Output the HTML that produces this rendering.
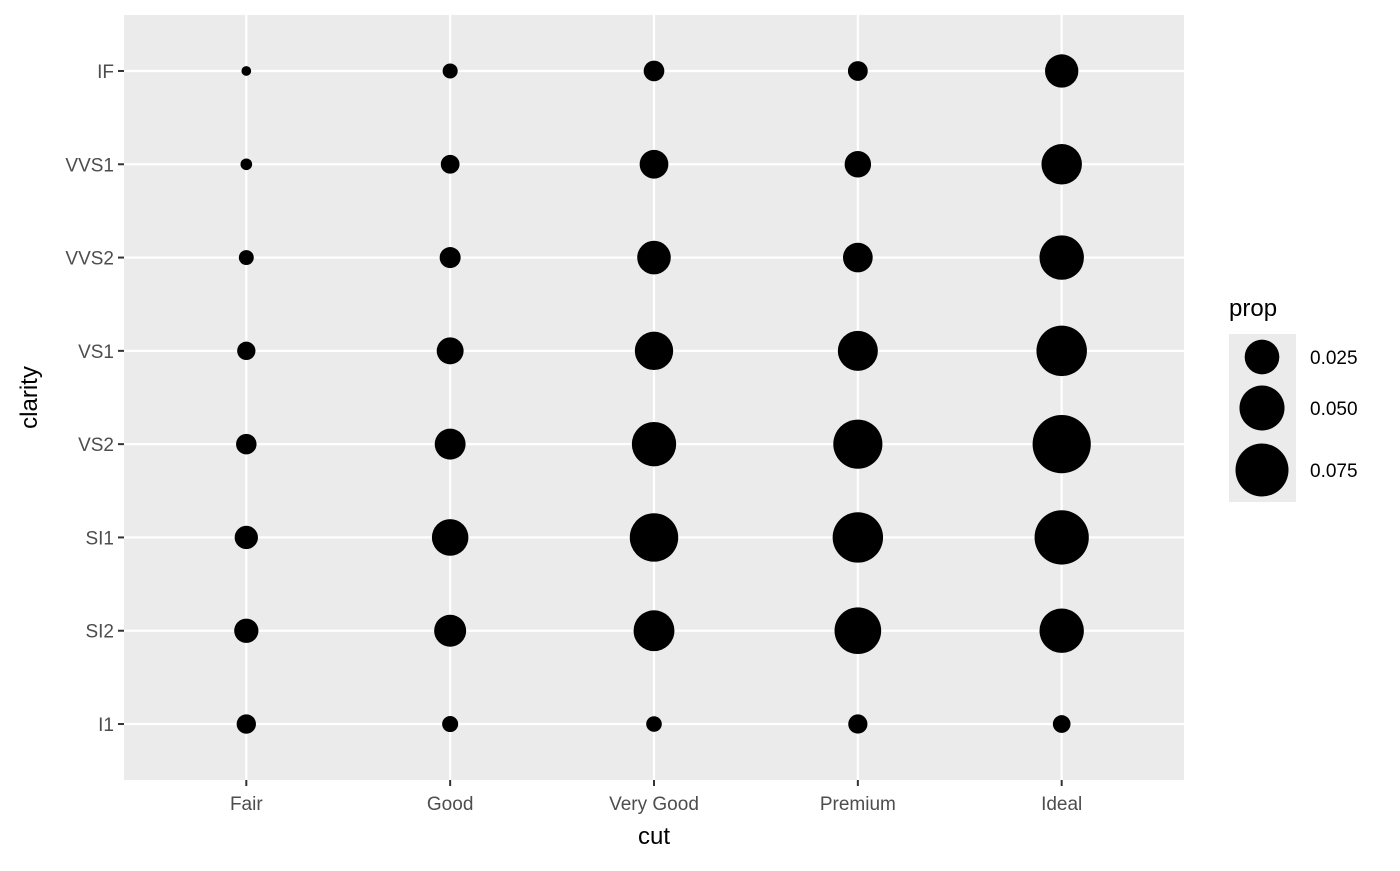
<!DOCTYPE html>
<html><head><meta charset="utf-8"><style>
body{margin:0;background:#fff;font-family:"Liberation Sans","DejaVu Sans",sans-serif}
</style></head><body>
<svg id="chart" width="1400" height="866" xmlns="http://www.w3.org/2000/svg"></svg>
<script>
const cuts=["Fair","Good","Very Good","Premium","Ideal"];
const clarities=["I1","SI2","SI1","VS2","VS1","VVS2","VVS1","IF"];
// proportions per cut (rows) over clarity (I1..IF)
const propFair=[0.00389,0.00864,0.00756,0.00484,0.00315,0.00128,0.00032,0.00017];
const propGood=[0.00178,0.02004,0.02892,0.01813,0.01201,0.00530,0.00345,0.00132];
const propVeryGood=[0.00156,0.03893,0.06007,0.04803,0.03291,0.02290,0.01463,0.00497];
const propPremium=[0.00380,0.05467,0.06628,0.06224,0.03687,0.01613,0.01142,0.00426];
const propIdeal=[0.00271,0.04816,0.07938,0.09401,0.06654,0.04831,0.03795,0.02247];
const legendBreaks=[0.025,0.050,0.075];
const legendLabels=["0.025","0.050","0.075"];
const series=[propFair,propGood,propVeryGood,propPremium,propIdeal];

const svg=document.getElementById('chart');
const NS="http://www.w3.org/2000/svg";
function mk(t,a,p){const e=document.createElementNS(NS,t);for(const k in a)e.setAttribute(k,a[k]);(p||svg).appendChild(e);return e;}
const L=124,R=1184,T=15,B=780;
const xs=i=>L+(R-L)*(i+0.6)/(cuts.length+0.2);
const ys=j=>B-(B-T)*(j+0.6)/(clarities.length+0.2);
const all=series.flat();
const pmin=Math.min(...all),pmax=Math.max(...all);
const rad=p=>{const s=1+5*Math.sqrt(Math.max(0,(p-pmin)/(pmax-pmin)));return s*9.7/2;};

const panel=mk('rect',{x:L,y:T,width:R-L,height:B-T,fill:'#ebebeb'});


cuts.forEach((c,i)=>{
  const g=mk('line',{x1:xs(i),x2:xs(i),y1:T,y2:B,stroke:'#fff','stroke-width':2.2});
  
  
  const tk=mk('line',{x1:xs(i),x2:xs(i),y1:B,y2:B+6,stroke:'#333','stroke-width':2});
  
  
  const t=mk('text',{x:xs(i),y:B+30,'text-anchor':'middle','font-size':19,fill:'#4d4d4d'});
  t.textContent=c;
  
  
});
clarities.forEach((c,j)=>{
  const g=mk('line',{x1:L,x2:R,y1:ys(j),y2:ys(j),stroke:'#fff','stroke-width':2.2});
  
  
  const tk=mk('line',{x1:L-6,x2:L,y1:ys(j),y2:ys(j),stroke:'#333','stroke-width':2});
  
  
  const t=mk('text',{x:L-10,y:ys(j)+7,'text-anchor':'end','font-size':19,fill:'#4d4d4d'});
  t.textContent=c;
  
  
});
series.forEach((arr,i)=>arr.forEach((p,j)=>{
  const c=mk('circle',{cx:xs(i),cy:ys(j),r:rad(p),fill:'#000'});
  
  
}));
const xt=mk('text',{x:(L+R)/2,y:844,'text-anchor':'middle','font-size':24,fill:'#000'});
xt.textContent='cut';


const yt=mk('text',{x:0,y:0,'text-anchor':'middle','font-size':24,fill:'#000',transform:`translate(37,${(T+B)/2}) rotate(-90)`});
yt.textContent='clarity';


const lt=mk('text',{x:1229,y:316,'font-size':24,fill:'#000'});
lt.textContent='prop';


const lb=mk('rect',{x:1229,y:334,width:67,height:168,fill:'#ebebeb'});


const ky=[357,408,470];
legendBreaks.forEach((b,k)=>{
  const c=mk('circle',{cx:1262,cy:ky[k],r:rad(b),fill:'#000'});
  
  
  const t=mk('text',{x:1310,y:ky[k]+7,'font-size':19,fill:'#000'});
  t.textContent=legendLabels[k];
  
  
});
</script>
</body></html>
